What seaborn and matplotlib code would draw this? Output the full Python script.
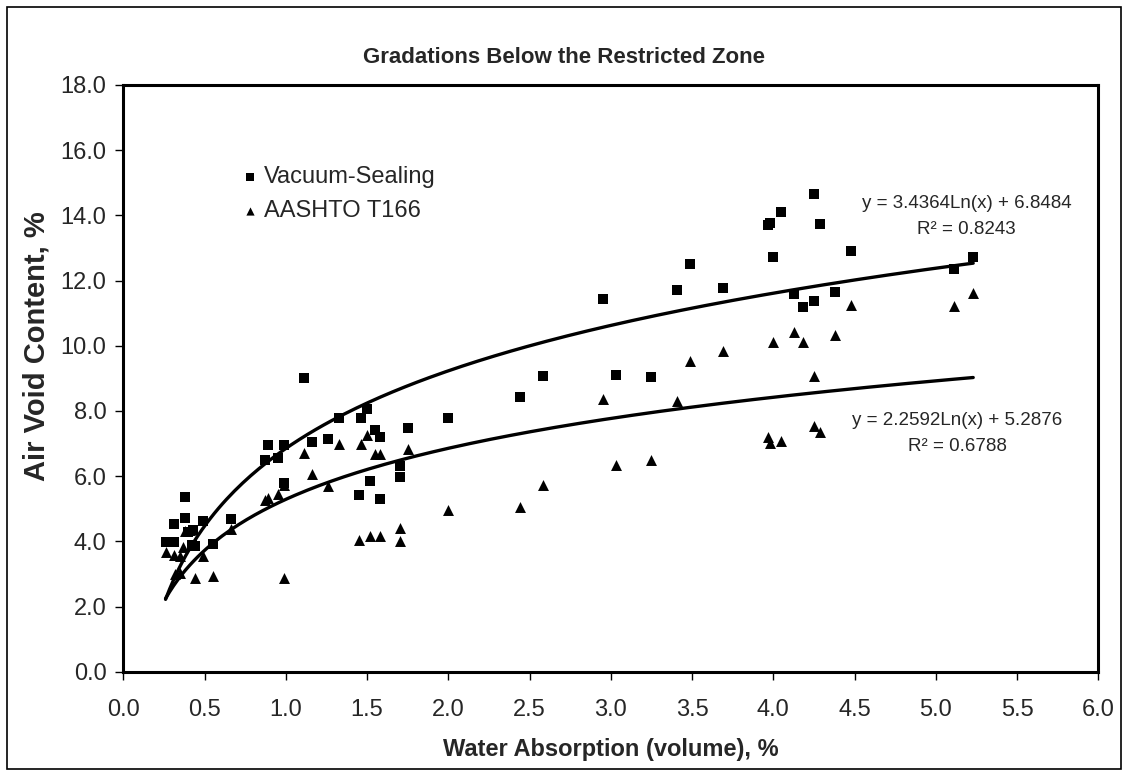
import numpy as np
import pandas as pd
import matplotlib
matplotlib.use("Agg")
import matplotlib.pyplot as plt
import seaborn as sns
from matplotlib.patches import Rectangle

# ---- data ----
vac_x = [0.26, 0.31, 0.31, 0.38, 0.38, 0.40, 0.43, 0.42, 0.44, 0.49, 0.55, 0.66,
         0.87, 0.89, 0.95, 0.99, 0.99, 1.11, 1.16, 1.26, 1.33, 1.46, 1.50, 1.55,
         1.58, 1.75, 2.00, 1.70, 1.70, 1.52, 1.45, 1.58, 2.44, 2.58, 2.95, 3.03,
         3.25, 3.41, 3.49, 3.69, 3.97, 3.98, 4.00, 4.05, 4.25, 4.29, 4.48, 4.13,
         4.18, 4.25, 4.38, 5.11, 5.23]
vac_y = [3.99, 3.99, 4.52, 5.35, 4.72, 4.30, 4.35, 3.90, 3.86, 4.62, 3.93, 4.68,
         6.48, 6.95, 6.57, 6.95, 5.78, 9.00, 7.04, 7.13, 7.77, 7.77, 8.06, 7.41,
         7.21, 7.48, 7.77, 6.32, 5.96, 5.84, 5.42, 5.30, 8.43, 9.07, 11.42, 9.11,
         9.03, 11.70, 12.51, 11.78, 13.70, 13.77, 12.73, 14.11, 14.67, 13.73, 12.91, 11.59,
         11.20, 11.38, 11.66, 12.34, 12.73]

aas_x = [0.26, 0.31, 0.35, 0.32, 0.35, 0.37, 0.38, 0.41, 0.44, 0.49, 0.55, 0.66,
         0.87, 0.89, 0.95, 0.99, 0.99, 1.11, 1.16, 1.26, 1.33, 1.46, 1.50, 1.55,
         1.58, 1.75, 2.00, 1.45, 1.52, 1.58, 1.70, 1.70, 2.44, 2.58, 2.95, 3.03,
         3.25, 3.41, 3.49, 3.69, 4.00, 3.97, 3.98, 4.05, 4.13, 4.18, 4.38, 4.48,
         5.11, 5.23, 4.25, 4.25, 4.29]
aas_y = [3.68, 3.58, 3.55, 3.00, 3.04, 3.82, 4.32, 4.35, 2.88, 3.55, 2.94, 4.37,
         5.27, 5.32, 5.45, 5.73, 2.88, 6.70, 6.06, 5.70, 6.98, 7.00, 7.26, 6.68,
         6.68, 6.83, 4.96, 4.04, 4.16, 4.16, 4.40, 4.02, 5.04, 5.73, 8.37, 6.34,
         6.51, 8.29, 9.53, 9.84, 10.11, 7.19, 7.02, 7.09, 10.41, 10.10, 10.33, 11.25,
         11.22, 11.61, 9.07, 7.54, 7.36]

series_names = ["Vacuum-Sealing", "AASHTO T166"]
fit_slope = [3.4364, 2.2592]
fit_icpt = [6.8484, 5.2876]
fit_r2 = [0.8243, 0.6788]

title = "Gradations Below the Restricted Zone"
xlabel = "Water Absorption (volume), %"
ylabel = "Air Void Content, %"
xticks = [0.0, 0.5, 1.0, 1.5, 2.0, 2.5, 3.0, 3.5, 4.0, 4.5, 5.0, 5.5, 6.0]
yticks = [0.0, 2.0, 4.0, 6.0, 8.0, 10.0, 12.0, 14.0, 16.0, 18.0]

# ---- style ----
sns.set_theme(style="white")
plt.rcParams['font.family'] = ['Liberation Sans', 'DejaVu Sans']
plt.rcParams['axes.linewidth'] = 2.2

fig = plt.figure(figsize=(11.28, 7.76), dpi=100)
ax = fig.add_axes([0.1093, 0.1344, 0.8644, 0.7561])

df_v = pd.DataFrame({"x": vac_x, "y": vac_y})
df_a = pd.DataFrame({"x": aas_x, "y": aas_y})

sns.scatterplot(data=df_v, x="x", y="y", marker="s", color="black", s=58,
                edgecolor="black", linewidth=0, label=series_names[0], ax=ax, zorder=3)
sns.scatterplot(data=df_a, x="x", y="y", marker="^", color="black", s=62,
                edgecolor="black", linewidth=0, label=series_names[1], ax=ax, zorder=3)

# trend lines (logarithmic, as given in the chart)
xmin = min(min(vac_x), min(aas_x))
xmax = max(max(vac_x), max(aas_x))
xs = np.linspace(xmin, xmax, 200)
for a, b in zip(fit_slope, fit_icpt):
    d = pd.DataFrame({"x": xs, "y": a * np.log(xs) + b})
    sns.lineplot(data=d, x="x", y="y", color="black", linewidth=2.4, ax=ax,
                 legend=False, zorder=2)

ax.set_xlim(0, 6)
ax.set_ylim(0, 18)
ax.set_xticks(xticks)
ax.set_yticks(yticks)
ax.set_xticklabels([f"{v:.1f}" for v in xticks], fontsize=17)
ax.set_yticklabels([f"{v:.1f}" for v in yticks], fontsize=17)
ax.tick_params(axis="both", direction="out", length=6, width=1, color="black",
               bottom=True, left=True)
ax.tick_params(axis="x", pad=14)
ax.tick_params(axis="y", pad=6)
for sp in ax.spines.values():
    sp.set_color("black")
    sp.set_linewidth(2.2)

ax.set_xlabel(xlabel, fontsize=17, fontweight="bold", va="center")
ax.xaxis.set_label_coords(0.5, -0.133)
ax.set_ylabel(ylabel, fontsize=21, fontweight="bold", va="center")
ax.yaxis.set_label_coords(-0.089, 0.555)

fig.text(0.5, 0.9265, title, fontsize=16, fontweight="bold",
         ha="center", va="center")

# equations
ax.text(5.19, 14.35, f"y = {fit_slope[0]:.4f}Ln(x) + {fit_icpt[0]:.4f}",
        fontsize=13.5, ha="center", va="center")
ax.text(5.19, 13.57, f"R\u00b2 = {fit_r2[0]:.4f}", fontsize=13.5, ha="center", va="center")
ax.text(5.13, 7.72, f"y = {fit_slope[1]:.4f}Ln(x) + {fit_icpt[1]:.4f}",
        fontsize=13.5, ha="center", va="center")
ax.text(5.13, 6.91, f"R\u00b2 = {fit_r2[1]:.4f}", fontsize=13.5, ha="center", va="center")

leg = ax.legend(loc="upper left", bbox_to_anchor=(0.108, 0.878), frameon=False,
                fontsize=17, markerscale=0.75, handletextpad=0.1,
                handlelength=1.0, labelspacing=0.5, borderaxespad=0)

fig.patches.append(Rectangle((7 / 1128, 1 - 769 / 776), 1114 / 1128, 762 / 776,
                             transform=fig.transFigure, fill=False,
                             edgecolor="black", linewidth=1.2))

fig.savefig("out.png", dpi=100)
